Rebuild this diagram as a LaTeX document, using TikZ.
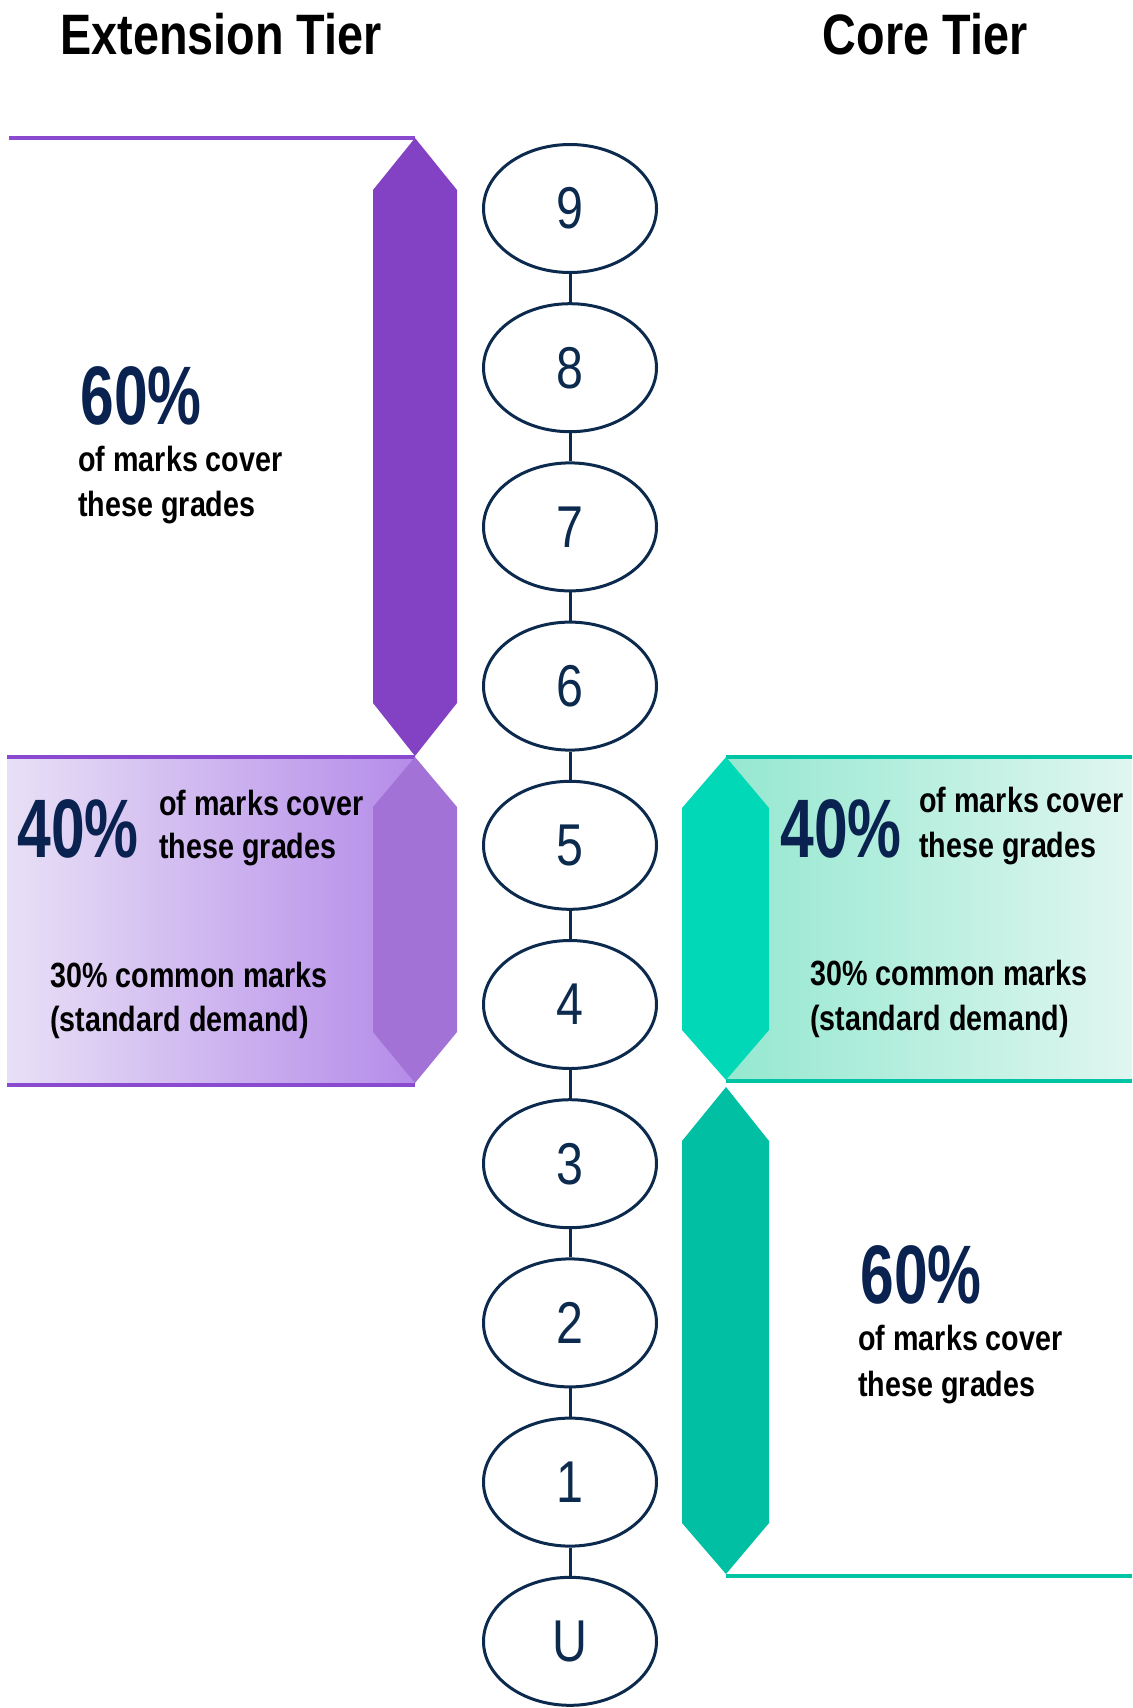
\documentclass[tikz,border=0pt]{standalone}
\usepackage{fontspec}
\setmainfont{Liberation Sans}[FakeStretch=0.82]
\newfontfamily\pctfont{Liberation Sans}[FakeStretch=0.73]
\usetikzlibrary{shapes.geometric}
\definecolor{navy}{HTML}{0B2A4E}
\definecolor{pctnavy}{HTML}{0A2250}
\definecolor{purpdark}{HTML}{8342C4}
\definecolor{purpline}{HTML}{8A4AD0}
\definecolor{purphex}{HTML}{A372D6}
\definecolor{purpL}{HTML}{E8E0F6}
\definecolor{purpR}{HTML}{B58CE9}
\definecolor{tealhex}{HTML}{00D8B8}
\definecolor{tealdark}{HTML}{00BFA2}
\definecolor{tealline}{HTML}{00C4A4}
\definecolor{tealL}{HTML}{95E8D0}
\definecolor{tealR}{HTML}{E0F6F0}
\begin{document}
\begin{tikzpicture}[x=0.5pt,y=-0.5pt,
  grade/.style={ellipse, draw=navy, line width=1.5pt, minimum width=86.5pt, minimum height=64pt, inner sep=0pt, font=\fontsize{29.5pt}{30pt}\selectfont, text=navy},
  conn/.style={draw=navy, line width=1.5pt},
  lbl/.style={anchor=base west, inner sep=0pt, font=\bfseries\fontsize{17.5pt}{20pt}\selectfont, text=black},
  pct/.style={anchor=base west, inner sep=0pt, font=\pctfont\bfseries\fontsize{41.5pt}{44pt}\selectfont, text=pctnavy},
  ttl/.style={anchor=base, inner sep=0pt, font=\bfseries\fontsize{28.5pt}{30pt}\selectfont, text=black},
  edge/.style={line width=2pt}]
\useasboundingbox (0,0) rectangle (1132,1708);

% titles
\node[ttl] (tExt) at (221,54) {Extension Tier};
\node[ttl] (tCore) at (925,54) {Core Tier};

% upper purple bar
\draw[purpline, line width=1.6pt] (9,138) -- (415,138);
\fill[purpdark] (415,138) -- (457,190) -- (457,703) -- (415,756) -- (373,703) -- (373,190) -- cycle;

% purple box
\shade[left color=purpL, right color=purpR] (7,757) rectangle (415,1084);
\draw[purpline, edge] (7,757) -- (415,757);
\draw[purpline, edge] (7,1085) -- (415,1085);
\fill[purphex] (415,757) -- (457,807) -- (457,1032) -- (415,1083) -- (373,1032) -- (373,807) -- cycle;

% teal box
\shade[left color=tealL, right color=tealR] (726,757) rectangle (1132,1080);
\draw[tealline, edge] (726,757) -- (1132,757);
\draw[tealline, edge] (726,1081) -- (1132,1081);
\fill[tealhex] (726,757) -- (769,808) -- (769,1030) -- (726,1080) -- (682,1030) -- (682,808) -- cycle;

% lower teal bar
\fill[tealdark] (726,1087) -- (769,1141) -- (769,1523) -- (726,1574) -- (682,1523) -- (682,1141) -- cycle;
\draw[tealline, edge] (726,1576) -- (1132,1576);

% grades
\node[grade] (g9) at (570,208.5) {9};
\node[grade] (g8) at (570,367.7) {8};
\node[grade] (g7) at (570,526.9) {7};
\node[grade] (g6) at (570,686.1) {6};
\node[grade] (g5) at (570,845.3) {5};
\node[grade] (g4) at (570,1004.5) {4};
\node[grade] (g3) at (570,1163.7) {3};
\node[grade] (g2) at (570,1322.9) {2};
\node[grade] (g1) at (570,1482.1) {1};
\node[grade] (gU) at (570,1641.3) {U};
\foreach \a/\b in {g9/g8,g8/g7,g7/g6,g6/g5,g5/g4,g4/g3,g3/g2,g2/g1,g1/gU}
  \draw[conn] (\a.south) -- (\b.north);

% left 60%
\node[pct] (l60) at (80,424) {60\%};
\node[lbl] (l60a) at (78,471) {of marks cover};
\node[lbl] (l60b) at (78,516) {these grades};

% left box
\node[pct] (l40) at (17,857) {40\%};
\node[lbl] (l40a) at (159,815) {of marks cover};
\node[lbl] (l40b) at (159,858) {these grades};
\node[lbl] (l30a) at (50,987) {30\% common marks};
\node[lbl] (l30b) at (50,1031) {(standard demand)};

% right box
\node[pct] (r40) at (780,857) {40\%};
\node[lbl] (r40a) at (919,812) {of marks cover};
\node[lbl] (r40b) at (919,857) {these grades};
\node[lbl] (r30a) at (810,985) {30\% common marks};
\node[lbl] (r30b) at (810,1030) {(standard demand)};

% right 60%
\node[pct] (r60) at (860,1303) {60\%};
\node[lbl] (r60a) at (858,1350) {of marks cover};
\node[lbl] (r60b) at (858,1396) {these grades};
\end{tikzpicture}
\end{document}
